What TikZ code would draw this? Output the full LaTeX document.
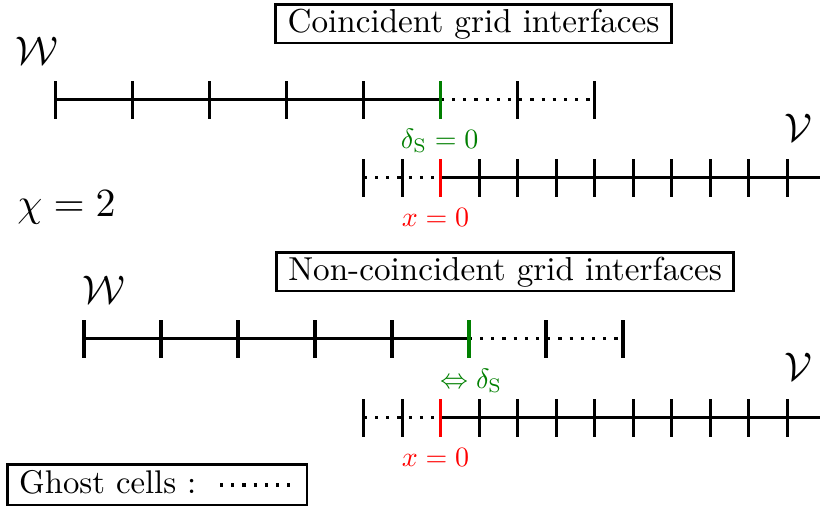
\documentclass[tikz,border=0pt]{standalone}
\usepackage{amsmath,amssymb}
\usepackage{xcolor}
\usepackage{tikz}
\usetikzlibrary{arrows.meta,positioning,calc}
\definecolor{ifaceGreen}{HTML}{007F00}
\definecolor{ifaceRed}{HTML}{FF0000}
\tikzset{
    cellline/.style={thick, draw=black},
    ghostline/.style={thick, dotted, draw=black},
    celltick/.style={thick, draw=black},
    greentick/.style={thick, draw=ifaceGreen},
    redtick/.style={thick, draw=ifaceRed},
    titlebox/.style={draw, line width=0.7pt, scale=0.83, inner xsep=3.6pt, inner ysep=1.2pt},
    keybox/.style={draw, line width=0.7pt, inner sep=0pt},
    keytext/.style={scale=0.82, inner sep=0pt},
    gridname/.style={inner sep=0pt},
    shiftlabel/.style={scale=0.7, inner sep=0pt, text=ifaceGreen},
    originlabel/.style={scale=0.7, inner sep=0pt, text=ifaceRed}
}
\begin{document}
\begin{tikzpicture}[x=9.63pt,y=9.63pt]
\useasboundingbox (0,0) rectangle (21.3,13.14);
% coincident interfaces
\begin{scope}[shift={(11.45,8.52)}]
  \node[titlebox] (titleCo) at (0.85,4.0) {Coincident grid interfaces};
  \node[gridname] (wCo) at (-10.48,3.29) {$\mathcal{W}$};
  \node[gridname] (vCo) at (9.29,1.29) {$\mathcal{V}$};
  % W grid
  \draw[cellline] (-10,2.03) -- (0,2.03);
  \draw[ghostline] (0,2.03) -- (4,2.03);
  \foreach \x in {-10,-8,...,-2,2,4}
    \draw[celltick] (\x,1.54) -- (\x,2.52);
  \draw[greentick] (0,1.54) -- (0,2.52);
  % V grid
  \draw[ghostline] (-2,0) -- (0,0);
  \draw[cellline] (0,0) -- (9.85,0);
  \foreach \x in {-2,-1,1,2,...,9}
    \draw[celltick] (\x,-0.49) -- (\x,0.49);
  \draw[redtick] (0,-0.49) -- (0,0.49);
  \node[shiftlabel] (dCo) at (-0.03,0.96) {$\delta_{\mathrm{S}}=0$};
  \node[originlabel] (oCo) at (-0.14,-1.03) {$x=0$};
\end{scope}
\node[gridname, anchor=base] (chi) at (1.73,7.51) {$\chi=2$};
% non-coincident interfaces
\begin{scope}[shift={(11.45,2.29)}]
  \node[titlebox] (titleNc) at (1.67,3.79) {Non-coincident grid interfaces};
  \node[gridname] (wNc) at (-8.76,3.31) {$\mathcal{W}$};
  \node[gridname] (vNc) at (9.29,1.31) {$\mathcal{V}$};
  % W grid, shifted
  \begin{scope}[xshift=0.73*9.63pt]
    \draw[cellline] (-10,2.05) -- (0,2.05);
    \draw[ghostline] (0,2.05) -- (4,2.05);
    \foreach \x in {-10,-8,...,-2,2,4}
      \draw[celltick] (\x,1.56) -- (\x,2.54);
    \draw[greentick] (0,1.56) -- (0,2.54);
  \end{scope}
  % V grid
  \draw[ghostline] (-2,0) -- (0,0);
  \draw[cellline] (0,0) -- (9.85,0);
  \foreach \x in {-2,-1,1,2,...,9}
    \draw[celltick] (\x,-0.49) -- (\x,0.49);
  \draw[redtick] (0,-0.49) -- (0,0.49);
  \node[shiftlabel] (dNc) at (0.79,0.96) {$\Leftrightarrow\delta_{\mathrm{S}}$};
  \node[originlabel] (oNc) at (-0.14,-1.03) {$x=0$};
\end{scope}
% legend
\node[keybox, minimum width=7.77*9.63pt, minimum height=1.04*9.63pt] (ghostKey) at (4.09,0.545) {};
\node[keytext, anchor=west] (ghostText) at ($(ghostKey.west)+(0.31,0.07)$) {Ghost cells :};
\draw[ghostline] ($(ghostText.east)+(0.6,-0.07)$) coordinate (ghostStart) -- ++(1.82,0) coordinate (ghostEnd);
\end{tikzpicture}
\end{document}
